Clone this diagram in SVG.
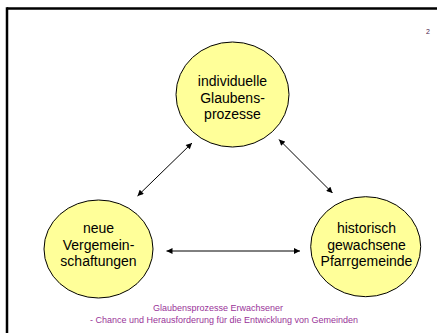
<svg xmlns="http://www.w3.org/2000/svg" width="437" height="333" viewBox="0 0 437 333">
<style>
.node ellipse{fill:#FFFF99;stroke:#000;stroke-width:1}
.node text{font-family:"Liberation Sans",Arial,sans-serif;font-size:14px;fill:#000;text-anchor:middle}
.conn line{stroke:#000;stroke-width:1;marker-start:url(#ah);marker-end:url(#ah)}
.foot{font-family:"Liberation Sans",Arial,sans-serif;font-size:9px;fill:#993399;text-anchor:middle}
</style>
<defs>
<marker id="ah" viewBox="0 0 10 10" refX="10" refY="5" markerWidth="7" markerHeight="6" orient="auto-start-reverse" markerUnits="userSpaceOnUse">
<path d="M0,0 L10,5 L0,10 z" fill="#000"/>
</marker>
</defs>
<rect width="437" height="333" fill="#fff"/>
<g id="frame">
<line x1="7" y1="8.5" x2="437" y2="8.5" stroke="#000" stroke-width="2.5"/>
<line x1="7" y1="7.25" x2="7" y2="333" stroke="#000" stroke-width="2.5"/>
</g>
<text x="428" y="34" font-family="Liberation Sans,Arial,sans-serif" font-size="7" fill="#4a234a" text-anchor="middle">2</text>
<g id="n1" class="node">
<ellipse cx="232.5" cy="94.5" rx="56.5" ry="52.5"/>
<text x="232.5" y="86">individuelle</text>
<text x="232.5" y="102.5">Glaubens-</text>
<text x="232.5" y="119">prozesse</text>
</g>
<g id="n2" class="node">
<ellipse cx="98.5" cy="249" rx="54.5" ry="49"/>
<text x="98.5" y="233">neue</text>
<text x="98.5" y="249.5">Vergemein-</text>
<text x="98.5" y="266">schaftungen</text>
</g>
<g id="n3" class="node">
<ellipse cx="365.7" cy="246.7" rx="55" ry="50"/>
<text x="366.5" y="233">historisch</text>
<text x="366.5" y="249.5">gewachsene</text>
<text x="366.5" y="266">Pfarrgemeinde</text>
</g>
<g id="connectors" class="conn">
<line x1="137.5" y1="196" x2="192" y2="143"/>
<line x1="279" y1="139.5" x2="332.5" y2="193"/>
<line x1="166.5" y1="251" x2="300" y2="251"/>
</g>
<text class="foot" x="218" y="311">Glaubensprozesse Erwachsener</text>
<text class="foot" x="224" y="323">- Chance und Herausforderung für die Entwicklung von Gemeinden</text>
</svg>
